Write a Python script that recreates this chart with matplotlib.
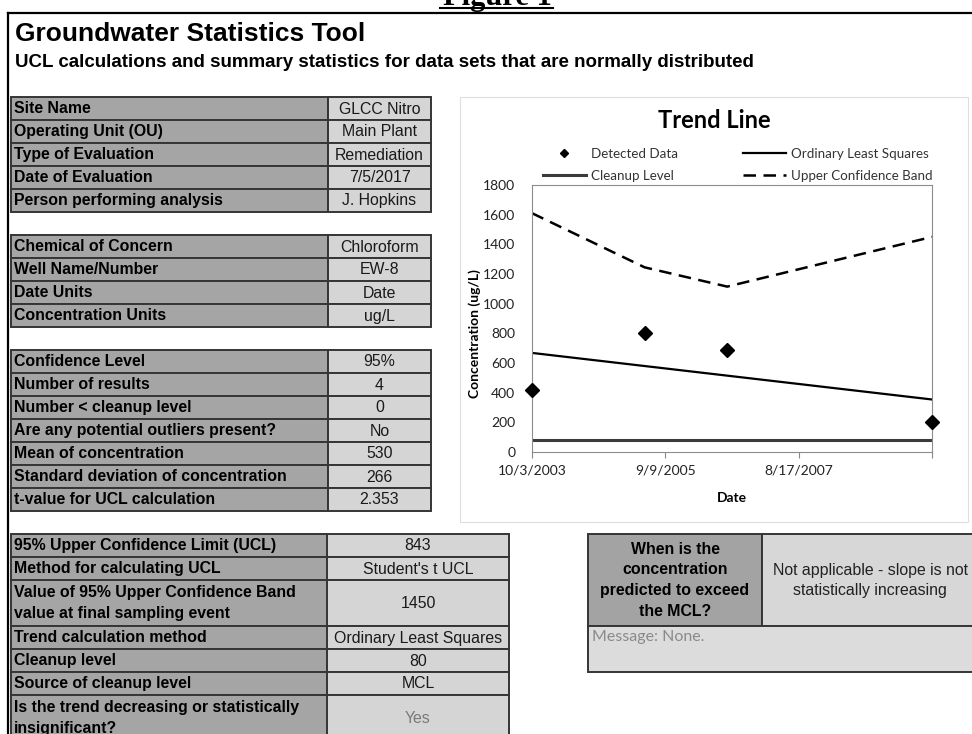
import matplotlib
matplotlib.use('Agg')
import matplotlib.pyplot as plt
from matplotlib.patches import Rectangle
import numpy as np

plt.rcParams['font.family'] = ['Liberation Sans', 'DejaVu Sans']

# ---- chart data ----
sample_dates = np.array(['2003-10-03', '2005-05-22', '2006-08-03', '2009-07-24'], dtype='datetime64[D]')
detected = [417, 800, 690, 204]
ucb = [1610, 1245, 1115, 1450]
ols_dates = np.array(['2003-10-03', '2009-07-24'], dtype='datetime64[D]')
ols = [668, 354]
cleanup_level = 80

x_tick_dates = np.array(['2003-10-03', '2005-09-09', '2007-08-17', '2009-07-24'], dtype='datetime64[D]')
x_tick_labels = ['10/3/2003', '9/9/2005', '8/17/2007', '']
y_ticks = [0, 200, 400, 600, 800, 1000, 1200, 1400, 1600, 1800]

# ---- table contents ----
site_labels = ['Site Name', 'Operating Unit (OU)', 'Type of Evaluation',
               'Date of Evaluation', 'Person performing analysis']
site_values = ['GLCC Nitro', 'Main Plant', 'Remediation', '7/5/2017', 'J. Hopkins']

well_labels = ['Chemical of Concern', 'Well Name/Number', 'Date Units', 'Concentration Units']
well_values = ['Chloroform', 'EW-8', 'Date', 'ug/L']

stat_labels = ['Confidence Level', 'Number of results', 'Number < cleanup level',
               'Are any potential outliers present?', 'Mean of concentration',
               'Standard deviation of concentration', 't-value for UCL calculation']
stat_values = ['95%', '4', '0', 'No', '530', '266', '2.353']

ucl_labels = ['95% Upper Confidence Limit (UCL)', 'Method for calculating UCL',
              'Value of 95% Upper Confidence Band\nvalue at final sampling event',
              'Trend calculation method', 'Cleanup level', 'Source of cleanup level',
              'Is the trend decreasing or statistically\ninsignificant?']
ucl_values = ['843', "Student's t UCL", '1450', 'Ordinary Least Squares', '80', 'MCL', 'Yes']

mcl_question = ['When is the', 'concentration', 'predicted to exceed', 'the MCL?']
mcl_answer = ['Not applicable - slope is not', 'statistically increasing']
message = 'Message: None.'

W, H = 972, 734
ROW = 23
TOP = 97
LABEL_C = '#a5a5a5'
VALUE_C = '#d5d5d5'
EDGE = '#353535'
FS = 11.4

fig = plt.figure(figsize=(W / 100, H / 100), dpi=100)
bg = fig.add_axes([0, 0, 1, 1])
bg.set_xlim(0, W)
bg.set_ylim(H, 0)
bg.axis('off')

# page heading, cut off at the top as in the scan
bg.text(497, 5, 'Figure 1', ha='center', va='baseline', fontsize=22,
        fontweight='bold', family='Liberation Serif')
bg.plot([440, 553], [7.5, 7.5], color='black', lw=1.5)

# outer frame
bg.plot([8, W + 5], [12.5, 12.5], color='black', lw=1.6)
bg.plot([8, 8], [12.5, H + 5], color='black', lw=1.6)

bg.text(15, 41, 'Groundwater Statistics Tool', fontsize=19, fontweight='bold', va='baseline')
bg.text(15, 67, 'UCL calculations and summary statistics for data sets that are normally distributed',
        fontsize=13.5, fontweight='bold', va='baseline')


def draw_table(first_row, labels, values, x0, xm, x1, value_colors=None):
    r = first_row
    for i, (lab, val) in enumerate(zip(labels, values)):
        lines = lab.split('\n')
        n = len(lines)
        y0 = TOP + r * ROW
        h = n * ROW
        bg.add_patch(Rectangle((x0, y0), xm - x0, h, fc=LABEL_C, ec=EDGE, lw=1.4))
        bg.add_patch(Rectangle((xm, y0), x1 - xm, h, fc=VALUE_C, ec=EDGE, lw=1.4))
        for k, line in enumerate(lines):
            yc = y0 + h / 2 + (k - (n - 1) / 2) * 20.5
            bg.text(x0 + 3, yc + 4.5, line, fontsize=FS, fontweight='bold', va='baseline')
        col = value_colors[i] if value_colors else '#1a1a1a'
        bg.text((xm + x1) / 2, y0 + h / 2 + 5, val, fontsize=FS, ha='center',
                va='baseline', color=col)
        r += n


draw_table(0, site_labels, site_values, 11, 328, 431)
draw_table(6, well_labels, well_values, 11, 328, 431)
draw_table(11, stat_labels, stat_values, 11, 328, 431)
draw_table(19, ucl_labels, ucl_values, 11, 327, 509,
           value_colors=['#1a1a1a'] * 6 + ['#7a7a7a'])

# prediction box
bx0, bxm, bx1 = 588, 762, 985
by0 = TOP + 19 * ROW
bg.add_patch(Rectangle((bx0, by0), bxm - bx0, 4 * ROW, fc='#a3a3a3', ec=EDGE, lw=1.4))
bg.add_patch(Rectangle((bxm, by0), bx1 - bxm, 4 * ROW, fc='#d7d7d7', ec=EDGE, lw=1.4))
bg.add_patch(Rectangle((bx0, by0 + 4 * ROW), bx1 - bx0, 2 * ROW, fc='#dcdcdc', ec=EDGE, lw=1.4))
for k, line in enumerate(mcl_question):
    bg.text((bx0 + bxm) / 2, by0 + 2 * ROW + (k - 1.5) * 21 + 5, line, fontsize=FS,
            fontweight='bold', ha='center', va='baseline')
for k, line in enumerate(mcl_answer):
    bg.text(870, by0 + 2 * ROW + (k - 0.5) * 21 + 5, line, fontsize=FS,
            ha='center', va='baseline', color='#222222')
bg.text(592, by0 + 4 * ROW + 15, message, fontsize=11.5, family='Lato',
        color='#8a8a8a', va='baseline')

# chart area frame
bg.add_patch(Rectangle((460, 97), 508, 425, fc='none', ec='#dedede', lw=0.8))

# ---- trend chart ----
px0, px1, py0, py1 = 532, 932, 185, 452
ax = fig.add_axes([px0 / W, 1 - py1 / H, (px1 - px0) / W, (py1 - py0) / H])

ax.plot(sample_dates, detected, linestyle='none', marker='D', ms=7, color='black',
        clip_on=False, zorder=5, label='Detected Data')
ax.plot([sample_dates[0], sample_dates[-1]], [cleanup_level, cleanup_level], color='#3c3c3c',
        lw=2.2, label='Cleanup Level')
ax.plot(ols_dates, ols, color='black', lw=1.6, label='Ordinary Least Squares')
ax.plot(sample_dates, ucb, color='black', lw=1.8, linestyle=(0, (5, 3)),
        label='Upper Confidence Band')

ax.set_xlim(x_tick_dates[0], x_tick_dates[-1])
ax.set_ylim(0, 1800)
ax.set_xticks(x_tick_dates)
ax.set_xticklabels(x_tick_labels)
ax.set_yticks(y_ticks)
ax.tick_params(axis='y', length=0, pad=12, labelsize=10)
ax.tick_params(axis='x', length=4, pad=5, labelsize=10, color='#888888')
for lab in ax.get_xticklabels() + ax.get_yticklabels():
    lab.set_family('Lato')
    lab.set_color('#222222')
for sp in ax.spines.values():
    sp.set_color('#8c8c8c')
    sp.set_linewidth(0.8)

fig.text(475 / W, 1 - 334 / H, 'Concentration (ug/L)', rotation=90, ha='center', va='center',
         family='Lato', fontweight='bold', fontsize=10)
fig.text(732 / W, 1 - 498 / H, 'Date', ha='center', va='center',
         family='Lato', fontweight='bold', fontsize=10)
fig.text(714 / W, 1 - 121 / H, 'Trend Line', ha='center', va='center',
         family='Lato', fontweight='bold', fontsize=17)

handles, labels = ax.get_legend_handles_labels()
leg = ax.legend(handles, labels, ncol=2, loc='upper left', frameon=False,
                bbox_to_anchor=(543 / W, 1 - 148 / H), bbox_transform=fig.transFigure,
                borderpad=0, borderaxespad=0, handlelength=3.2, handletextpad=0.4,
                columnspacing=4.9, labelspacing=0.75, markerscale=0.65,
                prop={'family': 'Lato', 'size': 9.6})
for t in leg.get_texts():
    t.set_color('#333333')

fig.savefig('out.png', dpi=100)
